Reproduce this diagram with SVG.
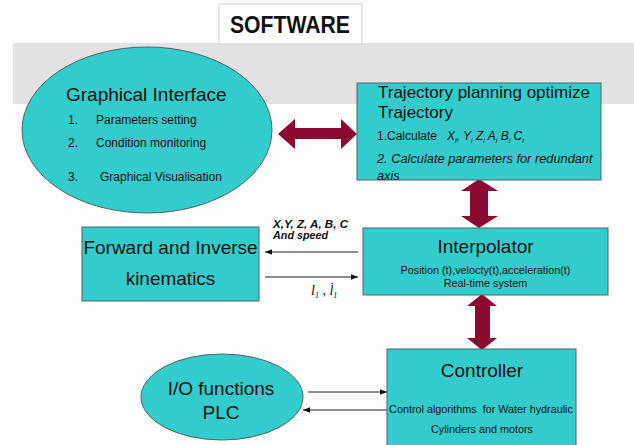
<svg xmlns="http://www.w3.org/2000/svg" width="634" height="445" viewBox="0 0 634 445">
<style>
text{font-family:"Liberation Sans",Arial,sans-serif;fill:#111}
.node{fill:#33cccc;stroke:#4f6464;stroke-width:1}
.big{font-size:19px}
.mid{font-size:12px}
.sm{font-size:10.8px}
.fat{fill:#8c0a30}
.thin{stroke:#222;stroke-width:1;fill:none}
</style>
<defs>
<marker id="ah" viewBox="0 0 10 10" refX="10" refY="5" markerWidth="7" markerHeight="7" orient="auto-start-reverse" markerUnits="userSpaceOnUse">
<path d="M0,1 L10,5 L0,9 Z" fill="#111"/>
</marker>
</defs>
<rect x="0" y="0" width="634" height="445" fill="#fdfdfd"/>
<rect x="13" y="43" width="621" height="61" fill="#e3e1e4"/>
<g id="title">
<rect x="219" y="4" width="143" height="40" fill="#ffffff" stroke="#d0d0d0"/>
<text x="230" y="33" font-size="24" font-weight="bold" textLength="120" lengthAdjust="spacingAndGlyphs">SOFTWARE</text>
</g>
<g id="connectors">
<path class="fat" d="M278,134 L295,119 L295,128 L341,128 L341,119 L357,134 L341,149 L341,139 L295,139 L295,149 Z"/>
<path class="fat" d="M479,179 L498,191 L488,191 L488,216 L498,216 L479,228 L461,216 L470,216 L470,191 L461,191 Z"/>
<path class="fat" d="M482,294 L497,306 L490,306 L490,338 L497,338 L482,350 L467,338 L475,338 L475,306 L467,306 Z"/>
<line class="thin" x1="358" y1="252" x2="265" y2="252" marker-end="url(#ah)"/>
<line class="thin" x1="265" y1="277" x2="358" y2="277" marker-end="url(#ah)"/>
<line class="thin" x1="308" y1="392" x2="387" y2="392" marker-end="url(#ah)"/>
<line class="thin" x1="387" y1="410" x2="303" y2="410" marker-end="url(#ah)"/>
<text x="273" y="228" font-size="10.8" font-weight="bold" font-style="italic" textLength="75" lengthAdjust="spacingAndGlyphs">X,Y, Z, A, B, C</text>
<text x="273" y="239" font-size="10.8" font-weight="bold" font-style="italic">And speed</text>
<text x="311" y="295" font-size="14" font-style="italic" style="font-family:'Liberation Serif',serif">l<tspan font-size="8" dy="3">1</tspan><tspan dy="-3"> , l̇</tspan><tspan font-size="8" dy="3">1</tspan></text>
</g>
<g id="graphical-interface">
<ellipse class="node" cx="147" cy="130" rx="125" ry="83"/>
<text x="66" y="101" font-size="19">Graphical Interface</text>
<text x="68" y="124" class="mid">1.</text><text x="96" y="124" class="mid">Parameters setting</text>
<text x="68" y="147" class="mid">2.</text><text x="96" y="147" class="mid">Condition monitoring</text>
<text x="68" y="181" class="mid">3.</text><text x="100" y="181" class="mid">Graphical Visualisation</text>
</g>
<g id="trajectory">
<rect class="node" x="357" y="83" width="244" height="97"/>
<text x="378" y="98" font-size="17">Trajectory planning optimize</text>
<text x="378" y="118" font-size="17">Trajectory</text>
<text x="377" y="140" class="mid">1.Calculate</text>
<text x="447" y="140" class="mid" font-style="italic">X<tspan font-size="7" dy="3">i</tspan><tspan dy="-3">, Y</tspan><tspan font-size="7" dy="3">i</tspan><tspan dy="-3"> Z</tspan><tspan font-size="7" dy="3">i</tspan><tspan dy="-3"> A</tspan><tspan font-size="7" dy="3">i</tspan><tspan dy="-3"> B</tspan><tspan font-size="7" dy="3">i</tspan><tspan dy="-3"> C</tspan><tspan font-size="7" dy="3">i</tspan></text>
<text x="377" y="163" font-size="12.8" font-style="italic">2. Calculate parameters for redundant</text>
<text x="377" y="180" font-size="12.8" font-style="italic">axis</text>
</g>
<g id="kinematics">
<rect class="node" x="82" y="227" width="177" height="74"/>
<text x="170.5" y="254" class="big" text-anchor="middle">Forward and Inverse</text>
<text x="170.5" y="285" class="big" text-anchor="middle">kinematics</text>
</g>
<g id="interpolator">
<rect class="node" x="363" y="228" width="245" height="67"/>
<text x="485.5" y="253" class="big" text-anchor="middle">Interpolator</text>
<text x="485.5" y="274" class="sm" text-anchor="middle">Position (t),velocty(t),acceleration(t)</text>
<text x="485.5" y="287" class="sm" text-anchor="middle">Real-time system</text>
</g>
<g id="controller">
<rect class="node" x="387" y="349" width="189" height="100"/>
<text x="482" y="377" class="big" text-anchor="middle">Controller</text>
<text x="481" y="413" class="sm" text-anchor="middle" style="white-space:pre">Control algorithms  for Water hydraulic</text>
<text x="482" y="433" class="sm" text-anchor="middle">Cylinders and motors</text>
</g>
<g id="io-plc">
<ellipse class="node" cx="222" cy="397" rx="81" ry="43"/>
<text x="221" y="395" font-size="19" text-anchor="middle">I/O functions</text>
<text x="221" y="419" font-size="19" text-anchor="middle">PLC</text>
</g>
</svg>
